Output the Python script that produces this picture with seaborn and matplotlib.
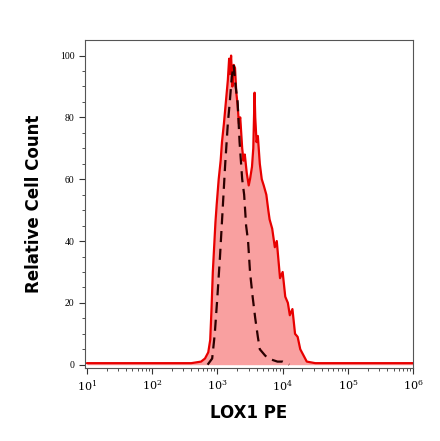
import numpy as np
import matplotlib
matplotlib.use("Agg")
import matplotlib.pyplot as plt
import seaborn as sns

# log10 fluorescence positions and relative counts
stained_log = [1.0, 2.6, 2.75, 2.81, 2.86, 2.89, 2.91, 2.93, 2.95, 2.97, 2.99, 3.02, 3.05, 3.07,
               3.10, 3.13, 3.16, 3.18, 3.19, 3.21, 3.23, 3.25, 3.27, 3.29, 3.31, 3.33, 3.35,
               3.38, 3.40, 3.42, 3.45, 3.48, 3.50, 3.53, 3.55, 3.57, 3.58, 3.60, 3.62, 3.65,
               3.68, 3.71, 3.75, 3.78, 3.80, 3.84, 3.88, 3.91, 3.96, 4.00, 4.04, 4.08, 4.11,
               4.15, 4.19, 4.23, 4.27, 4.32, 4.37, 4.5, 6.0]
stained_cnt = [0.5, 0.5, 1, 2, 4, 8, 18, 30, 38, 46, 52, 60, 66, 72,
               78, 85, 92, 99, 94, 100, 90, 97, 96, 88, 84, 78, 80,
               70, 66, 68, 62, 58, 60, 64, 70, 88, 80, 72, 74, 65,
               60, 58, 55, 50, 47, 44, 38, 40, 28, 30, 22, 20, 16,
               18, 10, 9, 5, 3, 1, 0.5, 0.5]
control_log = [2.85, 2.92, 2.96, 3.00, 3.04, 3.08, 3.12, 3.16, 3.19, 3.22, 3.25, 3.28, 3.31,
               3.34, 3.38, 3.41, 3.44, 3.47, 3.50, 3.54, 3.58, 3.62, 3.65, 3.69, 3.73,
               3.78, 3.85, 3.92, 4.00, 4.05, 4.10]
control_cnt = [0, 2, 10, 22, 35, 50, 65, 78, 85, 93, 97, 90, 85,
               72, 60, 55, 45, 40, 30, 22, 15, 9, 5, 4, 3,
               2, 1.5, 1, 1, 0.5, 0]

sns.set_style("white")
plt.rcParams["mathtext.fontset"] = "dejavuserif"
fig = plt.figure(figsize=(4.4, 4.41), dpi=100)
ax = fig.add_axes([0.193, 0.166, 0.746, 0.743])

x_s = 10 ** np.array(stained_log)
x_c = 10 ** np.array(control_log)
ax.fill_between(x_s, stained_cnt, color="#f9a0a0", lw=0)
sns.lineplot(x=x_s, y=stained_cnt, ax=ax, color="#e80000", lw=1.6, sort=False)
sns.lineplot(x=x_c, y=control_cnt, ax=ax, color="#2a0000", lw=1.6, sort=False,
             linestyle=(0, (5, 3)))

ax.set_xscale("log")
ax.set_xlim(10 ** 0.97, 10 ** 6.0)
ax.set_ylim(-1, 105)
ax.set_xticks([10 ** k for k in range(1, 7)])
ax.set_xticklabels([f"$10^{k}$" for k in range(1, 7)], fontsize=8, family="Liberation Serif")
ax.set_yticks([0, 20, 40, 60, 80, 100])
ax.set_yticklabels(["0", "20", "40", "60", "80", "100"], fontsize=7, family="Liberation Serif")
ax.set_yticks(np.arange(0, 105, 5), minor=True)
ax.tick_params(which="both", direction="out", left=True, bottom=True, color="#333333",
               labelcolor="black")
ax.tick_params(which="major", length=4, width=0.8)
ax.tick_params(which="minor", length=2, width=0.6)
for s in ax.spines.values():
    s.set_color("#555555")
    s.set_linewidth(0.8)
ax.set_xlabel("LOX1 PE", fontsize=12, fontweight="bold", labelpad=8, color="black")
ax.set_ylabel("Relative Cell Count", fontsize=12, fontweight="bold", labelpad=12, color="black")
fig.savefig("out.png", dpi=100)
